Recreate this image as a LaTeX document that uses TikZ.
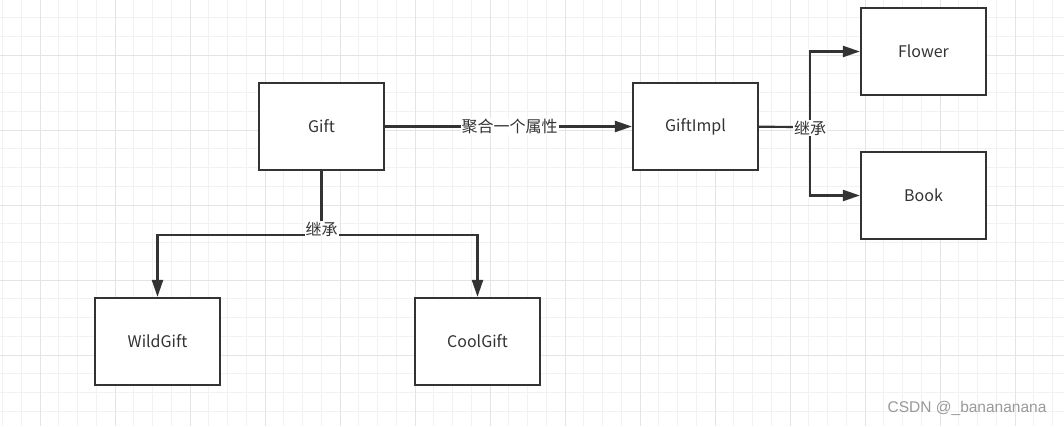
\documentclass[tikz,border=0pt]{standalone}
\usepackage{fontspec}
\newfontfamily\cjk{Noto Sans CJK SC}
\newfontfamily\wm{Liberation Sans}
\usetikzlibrary{arrows.meta}
\definecolor{ink}{HTML}{333333}
\definecolor{gminor}{HTML}{F2F2F2}
\definecolor{gmajor}{HTML}{E4E4E4}
\tikzset{
  box/.style={draw=ink, line width=2.2pt, minimum width=125pt, minimum height=87pt, inner sep=0pt, font=\cjk\fontsize{16}{19}\selectfont, text=ink, fill=white},
  conn/.style={draw=ink, line width=2.2pt},
  arr/.style={conn, -{Triangle[length=17pt,width=11pt]}},
  lbl/.style={fill=white, inner sep=1pt, font=\cjk\fontsize{16}{19}\selectfont, text=ink},
}
\begin{document}
\begin{tikzpicture}[x=1pt,y=-1pt]
\useasboundingbox (0,0) rectangle (1064,426);
\fill[white] (0,0) rectangle (1064,426);
% grid
\foreach \i in {-2,...,54} {
  \draw[gminor, line width=1pt] ({40+18.75*\i},0) -- ({40+18.75*\i},426);
}
\foreach \j in {-2,...,20} {
  \draw[gminor, line width=1pt] (0,{55+18.75*\j}) -- (1064,{55+18.75*\j});
}
\foreach \i in {0,...,13} {
  \draw[gmajor, line width=1pt] ({40+75*\i},0) -- ({40+75*\i},426);
}
\foreach \j in {0,...,5} {
  \draw[gmajor, line width=1pt] (0,{55+75*\j}) -- (1064,{55+75*\j});
}
% nodes
\node[box] (gift) at (321.5,126.5) {Gift};
\node[box] (impl) at (695.5,126.5) {GiftImpl};
\node[box] (flower) at (923.5,51.5) {Flower};
\node[box] (book) at (923.5,195.5) {Book};
\node[box] (wild) at (157.5,341.5) {WildGift};
\node[box] (cool) at (477.5,341.5) {CoolGift};
\coordinate (j1) at (321.5,235);
\coordinate (j2) at (810,127);
% connectors
\draw[arr] (gift) -- node[lbl, pos=0.5, xshift=1pt] {聚合一个属性} (impl);
\draw[conn] (gift) -- (j1);
\draw[arr] (j1) -| (wild);
\draw[arr] (j1) -| (cool);
\draw[conn] (impl) -- (j2);
\draw[arr] (j2) |- (flower);
\draw[arr] (j2) |- (book);
\node[lbl] (l1) at (321.5,229) {继承};
\node[lbl] (l2) at (810,128) {继承};
% watermark
\node[font=\wm\fontsize{15.5}{18}\selectfont, text=black!40, anchor=east] (wmk) at (1050,408) {CSDN @\_banananana};
\end{tikzpicture}
\end{document}
